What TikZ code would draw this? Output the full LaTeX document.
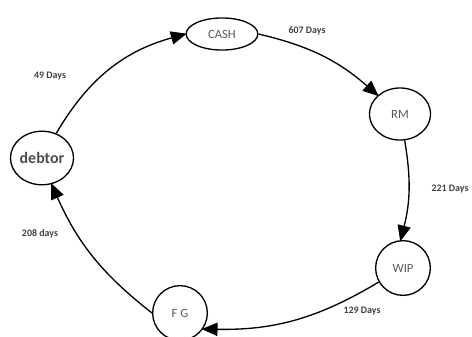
\documentclass[tikz,border=0pt]{standalone}
\usepackage{fontspec}
\setmainfont{Carlito}
\usetikzlibrary{
		arrows.meta,
		shapes.geometric,
		positioning
	}
\tikzset{
		>={Triangle[length=12pt,width=10pt]},
		stage/.style={draw, ellipse, line width=1pt, inner sep=0pt,
			text=black!65, font=\fontsize{9.5}{10}\selectfont},
		flow/.style={->, line width=1pt, shorten >=-1pt},
		days/.style={text=black!75, font=\bfseries\fontsize{7.5}{8}\selectfont}
	}

\begin{document}
\begin{tikzpicture}[x=0.0265cm, y=-0.0265cm]
          \useasboundingbox (0,0) rectangle (472,336);

          \node[stage, minimum width=1.9cm, minimum height=0.85cm] (cash) at (222,34) {CASH};
          \node[stage, minimum width=1.62cm, minimum height=1.38cm] (rm) at (400,114) {RM};
          \node[stage, minimum width=1.45cm, minimum height=1.45cm] (wip) at (403,268) {WIP};
          \node[stage, minimum width=1.45cm, minimum height=1.45cm] (fg) at (180,313) {F G};
          \node[stage, minimum width=1.65cm, minimum height=1.42cm,
                text=black!70, font=\bfseries\fontsize{12}{13}\selectfont] (debtor) at (42,158) {debtor};

          \draw[flow] (debtor.60) to[bend left=22] (cash.west);
          \draw[flow] (cash.east) to[bend left=14] (rm.140);
          \draw[flow] (rm.-80) to[bend left=12] (wip.95);
          \draw[flow] (wip.-150) to[bend left=16] (fg.-35);
          \draw[flow] (fg.west) to[bend left=14] (debtor.-70);

          \node[days] (d49) at (50,76) {49 Days};
          \node[days] (d607) at (307,31) {607 Days};
          \node[days] (d221) at (450,189) {221 Days};
          \node[days] (d208) at (40,234) {208 days};
          \node[days] (d129) at (362,311) {129 Days};

          \end{tikzpicture}
\end{document}
